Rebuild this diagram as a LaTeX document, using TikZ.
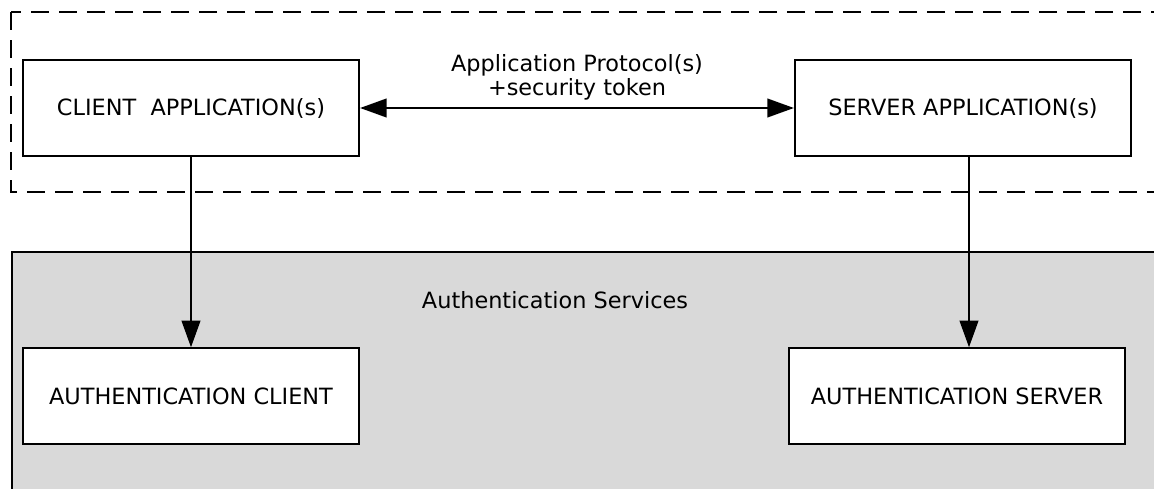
\documentclass[tikz,border=0pt]{standalone}
\usepackage{fontspec}
\setmainfont{DejaVu Sans}
\usetikzlibrary{arrows.meta}

\tikzset{
  appbox/.style={draw, line width=1.6pt, fill=white, minimum width=252pt, minimum height=71.5pt, inner sep=0pt},
  link/.style={line width=1.6pt, -{Triangle[length=20pt,width=14pt]}},
  dlink/.style={line width=1.6pt, {Triangle[length=20pt,width=14pt]}-{Triangle[length=20pt,width=14pt]}},
}

\begin{document}
\begin{tikzpicture}[x=0.75pt, y=-0.75pt, font=\fontsize{16.8}{18}\selectfont]
        \useasboundingbox (0,0) rectangle (1154,489);
        \clip (0,0) rectangle (1154,489);
        % trust area and service area
        \draw[line width=1.6pt, dash pattern=on 13.5pt off 7.5pt] (11,12) rectangle (1180,192);
        \filldraw[fill=gray!30, draw=black, line width=1.6pt] (12,252) rectangle (1180,520);
        \node (svc) at (555,300) {Authentication Services};
        % boxes
        \node[appbox] (cliapp) at (191,108) {CLIENT\ \ APPLICATION(s)};
        \node[appbox] (srvapp) at (963,108) {SERVER APPLICATION(s)};
        \node[appbox] (authcli) at (191,396) {AUTHENTICATION CLIENT};
        \node[appbox] (authsrv) at (957,396) {AUTHENTICATION SERVER};
        \node[align=center] (proto) at (577,77) {Application Protocol(s)\\+security token};
        % connectors
        \coordinate (srvline) at (969,0);
        \draw[dlink] (cliapp) -- (srvapp);
        \draw[link] (cliapp.south) -- (authcli.north);
        \draw[link] (srvapp.south -| srvline) -- (authsrv.north -| srvline);
\end{tikzpicture}
\end{document}
